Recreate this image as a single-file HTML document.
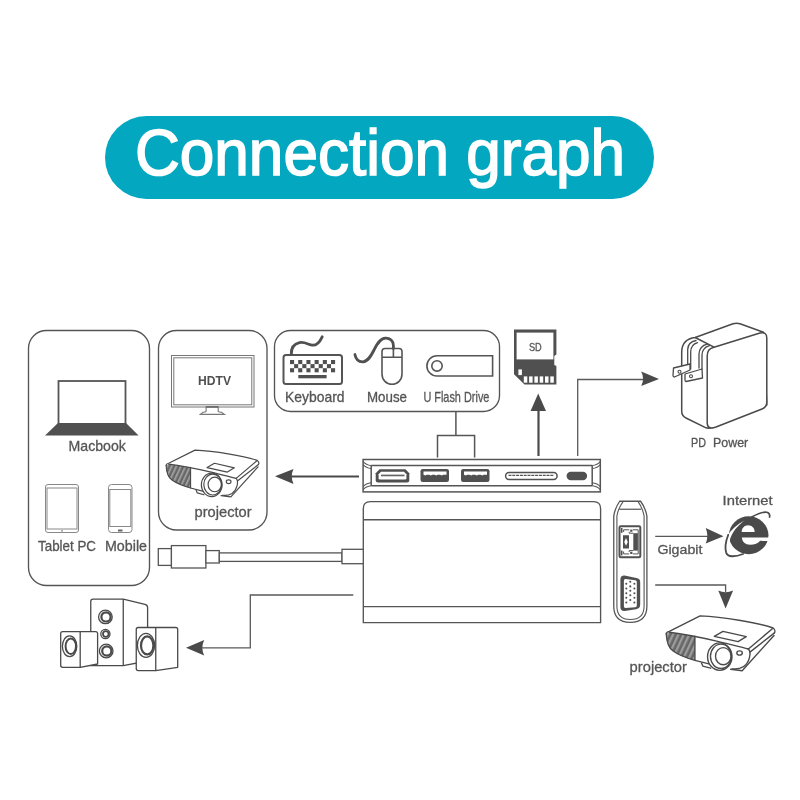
<!DOCTYPE html>
<html><head><meta charset="utf-8">
<style>
html,body{margin:0;padding:0;background:#fff;width:800px;height:800px;overflow:hidden}
svg{display:block;will-change:transform}
text{font-family:"Liberation Sans",sans-serif}
</style></head>
<body>
<svg width="800" height="800" viewBox="0 0 800 800">
<defs>
<pattern id="hatch" width="32" height="32" patternUnits="userSpaceOnUse" patternTransform="rotate(25)">
<rect width="32" height="32" fill="#666"/><rect width="15" height="32" fill="#9c9c9c"/>
</pattern>
<g id="proj">
<path d="M47,196 C50,250 60,285 90,306 C115,325 150,345 235,369 L235,211 C180,204 120,195 67,185 Z" fill="url(#hatch)" stroke="none"/>
<g fill="none" stroke="#4a4a4a" stroke-width="9" stroke-linejoin="round" stroke-linecap="round">
<path d="M47,196 C45,186 55,182 67,179 L269,78 C420,85 640,120 748,157 C760,165 762,180 757,189"/>
<path d="M67,185 C150,195 300,225 385,245 C450,262 530,280 586,295"/>
<path d="M743,162 L586,295 M757,189 L598,314 M754,206 L545,438 L470,428"/>
<path d="M586,295 C608,322 592,385 554,411 C530,426 505,428 480,425"/>
<path d="M47,196 C50,250 60,285 90,306 C115,325 150,345 235,369 L327,393"/>
<path d="M235,211 L235,369"/>
<path d="M362,212 L419,179 L572,214 L518,247 Z"/>
<path d="M278,387 L287,407 L338,421"/>
<ellipse cx="398" cy="345" rx="80" ry="90" fill="#fff"/>
<ellipse cx="406" cy="343" rx="69" ry="80"/>
<ellipse cx="421" cy="342" rx="51" ry="56"/>
<ellipse cx="528" cy="321" rx="18" ry="14"/>
</g>
</g>
</defs>

<!-- Title pill -->
<rect x="105" y="116" width="549" height="83" rx="41.5" fill="#03a8c0"/>
<text x="135" y="174.7" font-size="65" fill="#fff" stroke="#fff" stroke-width="1.6" textLength="490" lengthAdjust="spacingAndGlyphs">Connection graph</text>

<g fill="none" stroke="#555" stroke-width="1.35">
<!-- boxes -->
<rect x="28.5" y="330.5" width="121" height="255" rx="18"/>
<rect x="158.5" y="330.5" width="108.5" height="199.5" rx="18"/>
<rect x="274.5" y="330.5" width="225" height="81" rx="16"/>
</g>

<!-- Laptop -->
<rect x="58.5" y="381" width="67" height="43" fill="none" stroke="#555" stroke-width="1.8"/>
<path d="M58,423 L126,423 L138.6,435.5 L45,435.5 Z" fill="#505050"/>
<text x="68.6" y="450.9" font-size="14.4" fill="#555" stroke="#555" stroke-width="0.3" textLength="57.3" lengthAdjust="spacingAndGlyphs">Macbook</text>

<!-- Tablet -->
<g fill="none" stroke="#888" stroke-width="1">
<rect x="45.5" y="484.5" width="33" height="48" rx="2.5"/>
<rect x="47" y="488" width="30" height="41"/>
<rect x="108.5" y="484.5" width="23.5" height="48" rx="3"/>
<rect x="109.8" y="489.5" width="21" height="37"/>
</g>
<circle cx="62" cy="530.8" r="0.9" fill="#888"/>
<rect x="118" y="529.5" width="4.5" height="2" fill="#666"/>
<text x="38" y="550.5" font-size="14.4" fill="#555" stroke="#555" stroke-width="0.3" textLength="58" lengthAdjust="spacingAndGlyphs">Tablet PC</text>
<text x="105" y="550.5" font-size="14.4" fill="#555" stroke="#555" stroke-width="0.3" textLength="42" lengthAdjust="spacingAndGlyphs">Mobile</text>

<!-- HDTV -->
<g fill="none" stroke="#777" stroke-width="1">
<rect x="171.5" y="355.5" width="82.5" height="51.5"/>
<rect x="173.8" y="357.8" width="78" height="47"/>
<path d="M206.1,406.8 L206.1,411.3 Q205.5,412 203,412.3 L200.3,414.4 L224.5,414.4 L221.5,412.3 Q218.8,412 218.2,411.3 L218.2,406.8 Z" stroke-width="1.1"/>
<path d="M206.1,407 L218.2,407" stroke="#666" stroke-width="1.4"/>
</g>
<text x="198" y="385.3" font-size="12" font-weight="bold" fill="#505050" textLength="33" lengthAdjust="spacingAndGlyphs">HDTV</text>

<!-- projector 1 -->
<use href="#proj" transform="translate(160,440) scale(0.13)"/>
<text x="194.6" y="516.5" font-size="14.9" fill="#555" stroke="#555" stroke-width="0.3" textLength="57" lengthAdjust="spacingAndGlyphs">projector</text>

<!-- arrow to projector box -->
<line x1="291" y1="476.5" x2="359" y2="476.5" stroke="#4a4a4a" stroke-width="2"/>
<path d="M275,476.25 L293.5,469 Q290,476.25 293.5,484 Z" fill="#4a4a4a"/>

<!-- Keyboard -->
<rect x="283.5" y="355" width="58.5" height="29" rx="2.5" fill="none" stroke="#555" stroke-width="2"/>
<g fill="#505050">
<rect x="290" y="360" width="4.1" height="4.1"/><rect x="298.2" y="360" width="4.1" height="4.1"/><rect x="306.4" y="360" width="4.1" height="4.1"/><rect x="314.6" y="360" width="4.1" height="4.1"/><rect x="322.8" y="360" width="4.1" height="4.1"/><rect x="331" y="360" width="4.1" height="4.1"/>
<rect x="294.1" y="364.1" width="4.1" height="4.1"/><rect x="302.3" y="364.1" width="4.1" height="4.1"/><rect x="310.5" y="364.1" width="4.1" height="4.1"/><rect x="318.7" y="364.1" width="4.1" height="4.1"/><rect x="326.9" y="364.1" width="4.1" height="4.1"/>
<rect x="290" y="368.2" width="4.1" height="4.1"/><rect x="298.2" y="368.2" width="4.1" height="4.1"/><rect x="306.4" y="368.2" width="4.1" height="4.1"/><rect x="314.6" y="368.2" width="4.1" height="4.1"/><rect x="322.8" y="368.2" width="4.1" height="4.1"/><rect x="331" y="368.2" width="4.1" height="4.1"/>
<rect x="298.3" y="375" width="28.3" height="3.3"/>
</g>
<path d="M291.3,354.5 C291,348 293,344 299.5,342.6 C305,341.6 308.5,344.8 312.5,345.2 C317,345.5 320,341.5 322.2,336.8" fill="none" stroke="#505050" stroke-width="2.8" stroke-linecap="round"/>
<text x="285.1" y="402.4" font-size="14.4" fill="#555" stroke="#555" stroke-width="0.3" textLength="59.5" lengthAdjust="spacingAndGlyphs">Keyboard</text>

<!-- Mouse -->
<g fill="none" stroke="#555" stroke-width="1.6">
<path d="M382,351.5 Q382,348.5 385,348.5 L399,348.5 Q402,348.5 402,351.5 L402,374.3 A10,10 0 0 1 382,374.3 Z"/>
<path d="M382,357.2 L402,357.2 M393.4,348.5 L393.4,357.2"/>
</g>
<path d="M354.9,354.5 C356,360 359,362 363,361.8 C368,361.5 371,356 374,350 C377,344 380,338.5 385.5,338.2 C390,338 393.4,341 393.4,345.5 L393.4,348.5" fill="none" stroke="#505050" stroke-width="2.8" stroke-linecap="round"/>
<text x="367" y="402.4" font-size="14.4" fill="#555" stroke="#555" stroke-width="0.3" textLength="40" lengthAdjust="spacingAndGlyphs">Mouse</text>

<!-- Flash drive -->
<path d="M437,355.8 L492.6,355.8 L492.6,376 L437,376 A10.1,10.1 0 0 1 437,355.8 Z" fill="none" stroke="#555" stroke-width="1.6"/>
<circle cx="437" cy="365.9" r="5.2" fill="none" stroke="#555" stroke-width="1.6"/>
<text x="423.4" y="402.4" font-size="14.4" fill="#555" stroke="#555" stroke-width="0.3" textLength="66" lengthAdjust="spacingAndGlyphs">U Flash Drive</text>

<!-- bracket -->
<path d="M455.9,411.4 L455.9,435.5 M437.5,457.4 L437.5,435.5 L474.6,435.5 L474.6,457.4" fill="none" stroke="#555" stroke-width="1.5"/>

<!-- SD card -->
<path d="M514,329.6 L556.4,329.6 L556.4,354.5 L554.3,356 L554.3,365 L556.4,366 L556.4,384.4 L524.5,384.4 L514,374.3 Z" fill="#505050"/>
<rect x="516.6" y="332.6" width="36.8" height="26.8" fill="#fff"/>
<g fill="#fff">
<rect x="523.8" y="376.4" width="3.5" height="6.3"/><rect x="529.1" y="376.4" width="3.5" height="6.3"/><rect x="534.4" y="376.4" width="3.5" height="6.3"/><rect x="539.7" y="376.4" width="3.5" height="6.3"/><rect x="545" y="376.4" width="3.5" height="6.3"/><rect x="550.3" y="376.4" width="3.5" height="6.3"/>
<rect x="518.4" y="369.4" width="3.5" height="5.7"/>
</g>
<text x="528.9" y="351.1" font-size="11.3" fill="#555" stroke="#555" stroke-width="0.3" textLength="12.8" lengthAdjust="spacingAndGlyphs">SD</text>
<line x1="538.5" y1="409" x2="538.5" y2="456" stroke="#4a4a4a" stroke-width="2.2"/>
<path d="M538.2,393.5 L546,411 L530.6,411 Z" fill="#4a4a4a"/>

<!-- PD line + arrow -->
<path d="M577.7,456 L577.7,379.5 L645,379.5" fill="none" stroke="#5a5a5a" stroke-width="1.3"/>
<path d="M659,379.1 L641.2,371.6 Q645,379.1 641.2,386.1 Z" fill="#4a4a4a"/>

<!-- Hub top bar -->
<g fill="none" stroke="#555" stroke-width="1.5">
<rect x="363.1" y="459.5" width="237.2" height="32.4"/>
<path d="M371.2,465.5 L592.2,465.5 M371.2,485.7 L592.2,485.7 M371.2,465.5 L371.2,485.7 M592.2,465.5 L592.2,485.7"/>
<path d="M371.2,465.5 Q366,465 363.1,461.5 M371.2,468.5 Q366,468 363.1,464.5 M371.2,485.7 Q366,486.2 363.1,489.7 M371.2,482.7 Q366,483.2 363.1,486.7" stroke-width="1.1"/>
<path d="M592.2,465.5 Q597.5,465 600.3,461.5 M592.2,468.5 Q597.5,468 600.3,464.5 M592.2,485.7 Q597.5,486.2 600.3,489.7 M592.2,482.7 Q597.5,483.2 600.3,486.7" stroke-width="1.1"/>
</g>
<!-- ports -->
<path d="M379.5,469.3 L405.5,469.3 L409.3,473.2 L409.3,480.3 Q409.3,482.5 407,482.5 L378,482.5 Q375.7,482.5 375.7,480.3 L375.7,473.2 Z" fill="#505050"/>
<path d="M381,471.8 L404,471.8 L406.4,474.2 L406.4,478.3 Q406.4,479.6 405,479.6 L380,479.6 Q378.6,479.6 378.6,478.3 L378.6,474.2 Z" fill="#fff"/>
<rect x="381" y="474.6" width="23.5" height="1.7" fill="#666"/>
<rect x="420.5" y="469" width="28.5" height="13" rx="2.2" fill="#505050"/>
<rect x="461" y="469" width="28.5" height="13" rx="2.2" fill="#505050"/>
<path d="M423.5,471.5 L446.5,471.5 L446.5,474.7 L443,474.7 L442,475.5 L440,474.7 L437.5,474.7 L436.5,475.5 L434.5,474.7 L432,474.7 L431,475.5 L429,474.7 L426.5,474.7 L425.5,475.5 L423.5,474.7 Z" fill="#fff"/>
<path d="M464,471.5 L487,471.5 L487,474.7 L483.5,474.7 L482.5,475.5 L480.5,474.7 L478,474.7 L477,475.5 L475,474.7 L472.5,474.7 L471.5,475.5 L469.5,474.7 L467,474.7 L466,475.5 L464,474.7 Z" fill="#fff"/>
<rect x="505.6" y="472.6" width="51.5" height="6.8" rx="3.4" fill="#fff" stroke="#505050" stroke-width="1.5"/>
<line x1="508.5" y1="475.4" x2="554" y2="475.4" stroke="#555" stroke-width="1.4" stroke-dasharray="3 0.8"/>
<rect x="566.6" y="471.8" width="20.5" height="8.4" rx="4.2" fill="#505050"/>

<!-- Hub body -->
<g fill="none" stroke="#555" stroke-width="1.35">
<path d="M363.3,622.6 L363.3,508.6 Q363.3,501.6 370.3,501.6 L593.6,501.6 Q600.6,501.6 600.6,508.6 L600.6,622.6 Z"/>
<path d="M363.3,519.75 L600.6,519.75 M363.3,606.6 L600.6,606.6"/>
</g>

<!-- cable -->
<g fill="#fff" stroke="#555" stroke-width="1.3">
<rect x="158.3" y="548.6" width="13.2" height="16.8"/>
<rect x="171.4" y="545.6" width="34.5" height="22.4"/>
<rect x="205.9" y="550.6" width="13.4" height="12.4"/>
<rect x="219.3" y="552.9" width="122.7" height="8.5"/>
<rect x="342" y="549.3" width="21.3" height="14.4"/>
</g>

<!-- audio line -->
<path d="M353.3,595 L250.3,595 L250.3,647.8 L200,647.8" fill="none" stroke="#5a5a5a" stroke-width="1.3"/>
<path d="M186,647.8 L204.2,640 Q200.5,647.8 204.2,655.5 Z" fill="#4a4a4a"/>

<!-- speakers -->
<g fill="#fff" stroke="#4a4a4a" stroke-width="1.3" stroke-linejoin="round">
<path d="M90.75,601.5 Q90.75,599.1 93,599.1 L123.25,599.1 L145,604.3 Q147.6,605 147.6,607.5 L147.6,661 L123.25,665.7 L90.75,665.7 Z"/>
<path d="M123.25,599.1 L123.25,665.7"/>
<circle cx="105.4" cy="616.9" r="6.8"/><circle cx="106" cy="616.9" r="4.6" stroke-width="2.2"/>
<circle cx="105.4" cy="634" r="4.6"/><circle cx="105.8" cy="634" r="2.8" stroke-width="1.8"/>
<circle cx="106.2" cy="651" r="6.8"/><circle cx="106.8" cy="651" r="4.6" stroke-width="2.2"/>
<path d="M60.7,633.5 Q60.7,631.6 62.7,631.6 L95.6,631.6 Q97.6,631.6 97.6,633.5 L97.6,664 L80.2,667.3 L62.7,667.3 Q60.7,667.3 60.7,665.3 Z"/>
<path d="M80.2,631.6 L80.2,667.3"/>
<ellipse cx="69.6" cy="646.2" rx="7.2" ry="10.4"/><ellipse cx="70.8" cy="646.2" rx="5.2" ry="7.8" stroke-width="2"/>
<path d="M136.25,629.5 Q136.25,627.5 138.25,627.5 L175.7,627.5 Q177.7,627.5 177.7,629.5 L177.7,667.3 L155.75,670.6 L138.25,670.6 Q136.25,670.6 136.25,668.6 Z"/>
<path d="M155.75,627.5 L155.75,670.6"/>
<ellipse cx="146" cy="645.4" rx="8.6" ry="12"/><ellipse cx="147.2" cy="645.4" rx="6.2" ry="9" stroke-width="2.2"/>
</g>

<!-- PD adapter -->
<g fill="#fff" stroke="#4a4a4a" stroke-width="1.5" stroke-linejoin="round" stroke-linecap="round">
<path d="M681.7,352 Q682,339 695.2,337.5 L733,323.8 Q736.5,322.5 740,323.8 L763.5,332.2 L766.8,405 L714,427.4 Q708,429 705,427.4 L686,418 Q681.7,416 681.7,411 Z"/>
<path d="M695.2,337.5 L714,347.2"/>
<path d="M707.2,356 Q707.2,348.5 714,347.2 L760,333 Q766.8,331.5 766.8,338 L766.8,402 Q766.8,407 762,409 L716,427 Q707.2,430 707.2,423 Z"/>
<path d="M687.7,365 L687.7,349.5 Q688,342 696,340.5 M690.7,369 L690.7,351.7 Q691,344.5 697.5,342.7 M699,368 L699,354 Q699.5,346 707.2,344.2 M702,369 L702,354.7 Q702.5,347.5 709.5,345.7" fill="none" stroke-width="1.3"/>
<path d="M673.5,368 L690,364 L690,370 L674.5,377 Q673,377 673,375.5 Z" stroke-width="1.3"/>
<path d="M685,374 L702,369 L702.5,378 L686,381.5 Q685,381.5 685,380 Z" stroke-width="1.3"/>
<circle cx="679.5" cy="371.8" r="1.5" fill="none" stroke-width="1.1"/><circle cx="691" cy="376.3" r="1.5" fill="none" stroke-width="1.1"/>
</g>
<text x="691" y="447.1" font-size="12.4" fill="#555" stroke="#555" stroke-width="0.3" textLength="15" lengthAdjust="spacingAndGlyphs">PD</text><text x="713" y="447.1" font-size="12.4" fill="#555" stroke="#555" stroke-width="0.3" textLength="35.2" lengthAdjust="spacingAndGlyphs">Power</text>

<!-- adapter dongle -->
<g fill="none" stroke="#555" stroke-width="1.3">
<path d="M619.7,501.25 L640.6,501.25 Q645.5,508 646.9,516 L646.9,606 Q646.9,622.3 630.3,622.3 Q613.75,622.3 613.75,606 L613.75,516 Q615,508 619.7,501.25 Z"/>
<path d="M623.1,501.6 Q618.3,508 616.9,516 L616.9,606 Q616.9,619.5 630.3,619.5 Q644.1,619.5 644.1,606 L644.1,516 Q642.6,508 638.1,501.6" stroke-width="1.1"/>
<path d="M619.3,509.25 L641.2,509.25" stroke-width="1.2"/>
</g>
<rect x="619.5" y="526.2" width="20.8" height="31" rx="1.2" fill="#fff" stroke="#505050" stroke-width="2"/>
<g fill="#505050">
<rect x="620.9" y="528" width="1.6" height="4.8"/><rect x="620.9" y="550.6" width="1.6" height="4.8"/>
<rect x="633.3" y="533.2" width="4.6" height="17.4"/>
<rect x="630.2" y="529.6" width="2.2" height="2.2"/><rect x="630.2" y="551.8" width="2.2" height="2.2"/>
<path d="M623,535.2 L629,535.2 L629,548.6 L623,548.6 Z M626,538 L624.2,541.9 L626,545.8 L627.8,541.9 Z" fill-rule="evenodd"/>
</g>
<path d="M623.6,532 L623.6,529.8 L629.2,529.8 M632.8,529.8 L638.2,529.8 L638.2,553.9 L632.8,553.9 M629.2,553.9 L623.6,553.9 L623.6,551.5 M629.2,531.8 L629.2,533.2 L633.3,533.2 M629.2,552 L629.2,550.6 L633.3,550.6" fill="none" stroke="#555" stroke-width="1"/>
<path d="M624.5,575.4 Q620.4,575.2 620.4,579.5 L620.4,607 Q620.4,611.3 624.6,611.1 L636.2,609.2 Q640.2,608.6 640.2,604.6 L640.2,582.2 Q640.2,578.5 636.4,578 Z" fill="#505050"/>
<path d="M625.6,579 L635.2,580.3 Q636.8,580.5 636.8,582.2 L636.8,605.4 Q636.8,607.1 635.2,607.2 L625.6,607.9 Q623.9,608 623.9,606.3 L623.9,580.7 Q623.9,578.8 625.6,579 Z" fill="#fff"/>
<g fill="#505050">
<circle cx="626.3" cy="583.8" r="1.05"/><circle cx="626.3" cy="588.5" r="1.05"/><circle cx="626.3" cy="593.2" r="1.05"/><circle cx="626.3" cy="597.8" r="1.05"/><circle cx="626.3" cy="602.5" r="1.05"/>
<circle cx="630.3" cy="581.7" r="1.05"/><circle cx="630.3" cy="586.4" r="1.05"/><circle cx="630.3" cy="590.8" r="1.05"/><circle cx="630.3" cy="595.3" r="1.05"/><circle cx="630.3" cy="600" r="1.05"/>
<circle cx="634.4" cy="583.8" r="1.05"/><circle cx="634.4" cy="588.5" r="1.05"/><circle cx="634.4" cy="593.2" r="1.05"/><circle cx="634.4" cy="597.8" r="1.05"/><circle cx="634.4" cy="602.5" r="1.05"/>
</g>

<!-- Gigabit -->
<line x1="655.2" y1="536.4" x2="708" y2="536.4" stroke="#5a5a5a" stroke-width="1.3"/>
<path d="M723.5,536.2 L705.7,528.1 Q709,536.2 705.7,543.4 Z" fill="#4a4a4a"/>
<text x="657.4" y="554.0" font-size="13.4" fill="#555" stroke="#555" stroke-width="0.3" textLength="45" lengthAdjust="spacingAndGlyphs">Gigabit</text>
<text x="722.6" y="505.0" font-size="13.4" fill="#555" stroke="#555" stroke-width="0.3" textLength="50" lengthAdjust="spacingAndGlyphs">Internet</text>

<!-- IE logo -->
<g transform="translate(720,505) scale(0.07)">
<ellipse cx="410" cy="432" rx="282" ry="270" fill="#4a4a4a"/>
<path d="M310,385 C310,330 350,290 402,290 C455,290 495,330 495,385 Z" fill="#fff"/>
<path d="M312,465 L710,465 L710,515 L572,512 C548,550 492,568 430,568 C360,566 318,530 312,465 Z" fill="#fff"/>
<path d="M350,222 C250,275 160,350 100,450 L100,520 L135,520 C170,380 250,300 350,222 Z" fill="#fff"/>
<path d="M455,172 C540,122 620,96 668,104 C700,110 714,138 708,172" fill="none" stroke="#4a4a4a" stroke-width="24" stroke-linecap="round"/>
<path d="M118,425 C85,510 68,610 88,680 C110,748 210,745 330,700" fill="none" stroke="#4a4a4a" stroke-width="26" stroke-linecap="round"/>
</g>
<!-- VGA line -->
<path d="M655.2,585 L725.6,585 L725.6,592" fill="none" stroke="#5a5a5a" stroke-width="1.3"/>
<path d="M725.6,608.6 L718.25,590.6 Q725.6,594 733.1,590.6 Z" fill="#4a4a4a"/>

<!-- projector 2 -->
<use href="#proj" transform="translate(659.1,604.05) scale(0.1524)"/>
<text x="629.6" y="672.3" font-size="14.9" fill="#555" stroke="#555" stroke-width="0.3" textLength="57.3" lengthAdjust="spacingAndGlyphs">projector</text>

</svg>
</body></html>
